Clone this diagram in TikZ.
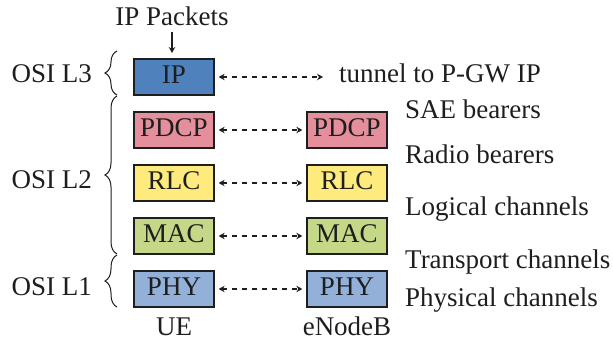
\documentclass[tikz,border=0pt]{standalone}
\usepackage{fontspec}
\setmainfont{Liberation Serif}
\usetikzlibrary{arrows.meta,decorations.pathreplacing}
\definecolor{ipblue}{RGB}{79,129,189}
\definecolor{pdcppink}{RGB}{228,143,155}
\definecolor{rlcyellow}{RGB}{255,235,125}
\definecolor{macgreen}{RGB}{196,216,136}
\definecolor{phyblue}{RGB}{146,176,216}
\definecolor{ink}{RGB}{30,30,30}
\tikzset{
  layerbox/.style={draw=ink, line width=1.3pt, minimum width=80pt, minimum height=36pt,
    inner sep=0pt, text height=18pt, text depth=6pt, text=ink},
  lbl/.style={inner sep=0pt, text=ink},
  tip/.style={Stealth[length=6pt,width=6.5pt,inset=2pt]},
  link/.style={dash pattern=on 5pt off 5pt, line width=1.2pt, draw=ink,
    {Stealth[length=6pt,width=6.5pt,inset=2pt]}-{Stealth[length=6pt,width=6.5pt,inset=2pt]}},
  osibrace/.style={decorate, decoration={brace, amplitude=12pt}, line width=1pt, draw=ink}
}
\begin{document}
\begin{tikzpicture}[x=1pt,y=-1pt, font=\fontsize{27}{32}\selectfont]
\useasboundingbox (0,0) rectangle (613,343);
% UE stack
\node[layerbox, fill=ipblue] (ip) at (174,77) {IP};
\node[layerbox, fill=pdcppink] (pdcp1) at (174,130) {PDCP};
\node[layerbox, fill=rlcyellow] (rlc1) at (174,183) {RLC};
\node[layerbox, fill=macgreen] (mac1) at (174,236) {MAC};
\node[layerbox, fill=phyblue] (phy1) at (174,289) {PHY};
% eNodeB stack
\node[layerbox, fill=pdcppink] (pdcp2) at (347,130) {PDCP};
\node[layerbox, fill=rlcyellow] (rlc2) at (347,183) {RLC};
\node[layerbox, fill=macgreen] (mac2) at (347,236) {MAC};
\node[layerbox, fill=phyblue] (phy2) at (347,289) {PHY};
% top
\node[lbl, anchor=base] (pk) at (172,25) {IP Packets};
\coordinate (pka) at (172,32);
\coordinate (pkb) at (172,53);
\draw[ink, line width=1.2pt, -{Stealth[length=6pt,width=6.5pt,inset=2pt]}] (pka) -- (pkb);
% tunnel
\node[lbl, anchor=base west] (tun) at (339,82) {tunnel to P-GW IP};
\coordinate (tunend) at (323,77);
\draw[link] ([xshift=4pt]ip.east) -- (tunend);
% peer links
\draw[link] ([xshift=4pt]pdcp1.east) -- ([xshift=-4pt]pdcp2.west);
\draw[link] ([xshift=4pt]rlc1.east) -- ([xshift=-4pt]rlc2.west);
\draw[link] ([xshift=4pt]mac1.east) -- ([xshift=-4pt]mac2.west);
\draw[link] ([xshift=4pt]phy1.east) -- ([xshift=-4pt]phy2.west);
% right labels
\node[lbl, anchor=base west] (sae) at (405,118) {SAE bearers};
\node[lbl, anchor=base west] (radio) at (405,163) {Radio bearers};
\node[lbl, anchor=base west] (logic) at (405,215) {Logical channels};
\node[lbl, anchor=base west] (trans) at (405,268) {Transport channels};
\node[lbl, anchor=base west] (phys) at (405,306) {Physical channels};
% bottom labels
\node[lbl, anchor=base] (ue) at (174,335) {UE};
\node[lbl, anchor=base] (enb) at (347,335) {eNodeB};
% braces
\coordinate (b3t) at (117,51); \coordinate (b3b) at (117,95);
\coordinate (b2t) at (117,96); \coordinate (b2b) at (117,254);
\coordinate (b1t) at (117,255); \coordinate (b1b) at (117,307);
\draw[osibrace] (b3b) -- (b3t);
\draw[osibrace] (b2b) -- (b2t);
\draw[osibrace] (b1b) -- (b1t);
\node[lbl, anchor=base east] (l3) at (92,82) {OSI L3};
\node[lbl, anchor=base east] (l2) at (92,188) {OSI L2};
\node[lbl, anchor=base east] (l1) at (92,295) {OSI L1};
\end{tikzpicture}
\end{document}
